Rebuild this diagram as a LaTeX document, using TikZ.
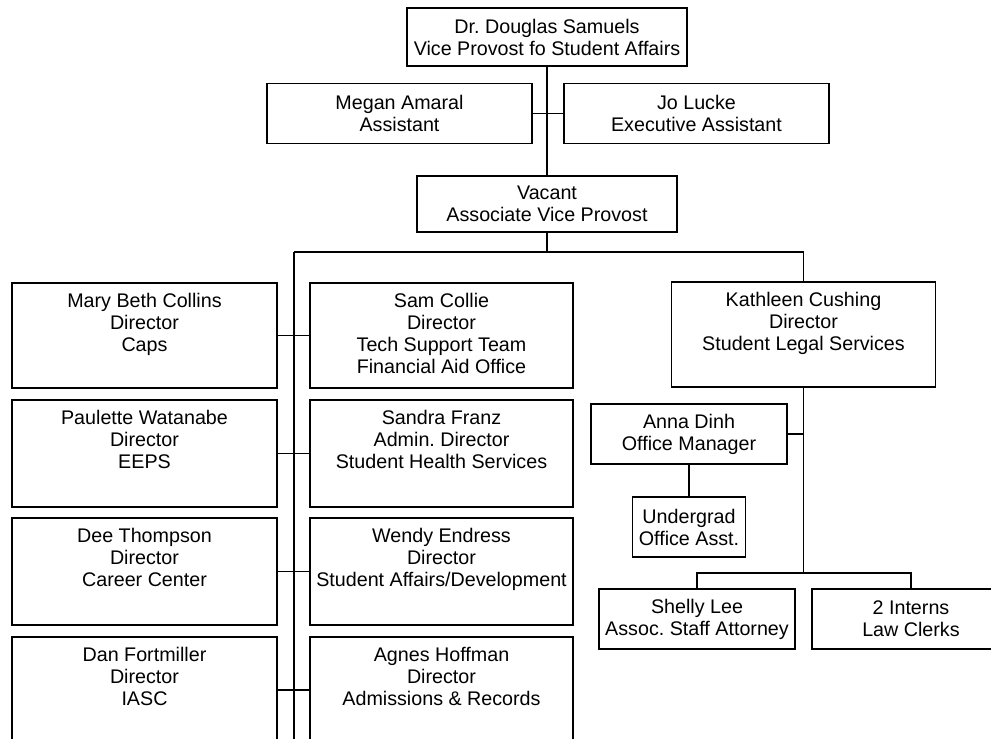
\documentclass[tikz,border=0pt]{standalone}
\usepackage{fontspec}
\setmainfont{Liberation Sans}
\frenchspacing
\newcommand{\chartfont}{\fontsize{19.7}{22}\selectfont}
\newcommand{\tbx}[3]{\parbox[c][#2][t]{#1}{\centering\rule{0pt}{24.5pt}#3}}
\tikzset{
  conn/.style={line width=1.5pt},
  cbox/.style={draw, line width=1.5pt, inner sep=0pt, align=center, font=\chartfont},
  gbox/.style={draw, line width=1.5pt, inner sep=0pt, font=\chartfont},
}
\begin{document}
\begin{tikzpicture}[x=1pt,y=-1pt]
\useasboundingbox (0,0) rectangle (991,739);
\clip (0,0) rectangle (991,739);
% top
\node[cbox, minimum width=280pt, minimum height=58pt] (top) at (547,37) {Dr. Douglas Samuels\\Vice Provost fo Student Affairs};
\node[cbox, minimum width=265pt, minimum height=60pt] (megan) at (399.5,113.5) {Megan Amaral\\Assistant};
\node[cbox, minimum width=265pt, minimum height=60pt] (jo) at (696.5,113.5) {Jo Lucke\\Executive Assistant};
\node[cbox, minimum width=260pt, minimum height=56pt] (vacant) at (547,204) {Vacant\\Associate Vice Provost};
% grid
\node[gbox] (caps) at (144.5,335.5) {\tbx{265pt}{105pt}{Mary Beth Collins\\Director\\Caps}};
\node[gbox] (sam) at (441.5,335.5) {\tbx{263pt}{105pt}{Sam Collie\\Director\\Tech Support Team\\Financial Aid Office}};
\node[gbox] (eeps) at (144.5,453.5) {\tbx{265pt}{107pt}{Paulette Watanabe\\Director\\EEPS}};
\node[gbox] (shs) at (441.5,453.5) {\tbx{263pt}{107pt}{Sandra Franz\\Admin. Director\\Student Health Services}};
\node[gbox] (career) at (144.5,571.5) {\tbx{265pt}{107pt}{Dee Thompson\\Director\\Career Center}};
\node[gbox] (sad) at (441.5,571.5) {\tbx{263pt}{107pt}{Wendy Endress\\Director\\Student Affairs/Development}};
\node[gbox] (iasc) at (144.5,690) {\tbx{265pt}{106pt}{Dan Fortmiller\\Director\\IASC}};
\node[gbox] (adm) at (441.5,690) {\tbx{263pt}{106pt}{Agnes Hoffman\\Director\\Admissions \& Records}};
% legal services
\node[gbox] (kc) at (803.5,334.5) {\tbx{264pt}{105pt}{Kathleen Cushing\\Director\\Student Legal Services}};
\node[cbox, minimum width=196pt, minimum height=60pt] (anna) at (689,434) {Anna Dinh\\Office Manager};
\node[cbox, minimum width=113pt, minimum height=60pt] (ug) at (689,527) {Undergrad\\Office Asst.};
\node[cbox, minimum width=196pt, minimum height=60pt] (shelly) at (697,619) {Shelly Lee\\Assoc. Staff Attorney};
\node[cbox, minimum width=198pt, minimum height=60pt] (interns) at (911,619) {2 Interns\\Law Clerks};
% connectors
\coordinate (hub) at (547,252);
\coordinate (hl) at (294,252);
\coordinate (hr) at (803.5,252);
\coordinate (spineend) at (294,750);
\coordinate (kbot) at (803.5,573);
\coordinate (bl) at (697,573);
\coordinate (br) at (911,573);
\draw[conn] (top) -- (vacant);
\draw[conn] (megan) -- (jo);
\draw[conn] (vacant) -- (hub);
\draw[conn] (hl) -- (hr);
\draw[conn] (hr) -- (kc);
\draw[conn] (hl) -- (spineend);
\draw[conn] (caps) -- (sam);
\draw[conn] (eeps) -- (shs);
\draw[conn] (career) -- (sad);
\draw[conn] (iasc) -- (adm);
\draw[conn] (kc) -- (kbot);
\draw[conn] (anna.east) -- (anna.east -| kc.south);
\draw[conn] (anna) -- (ug);
\draw[conn] (shelly.north) -- (bl) -- (br) -- (interns.north);
\end{tikzpicture}
\end{document}
